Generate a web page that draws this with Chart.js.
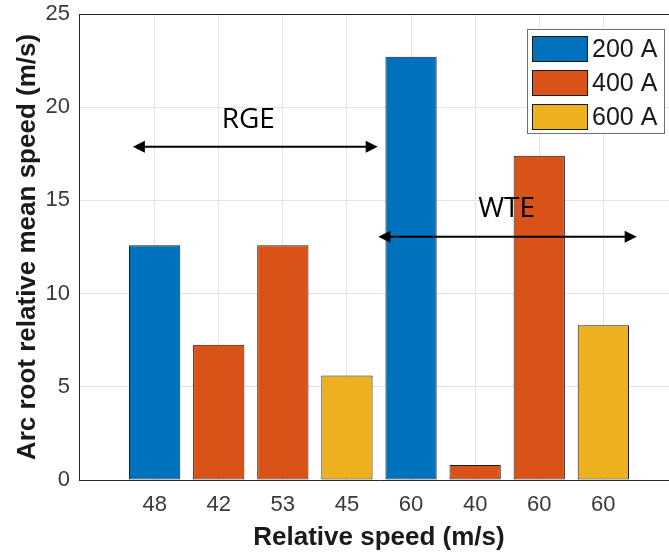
<!DOCTYPE html>
<html>
<head>
<meta charset="utf-8">
<script src="https://cdn.jsdelivr.net/npm/chart.js"></script>
<style>
  html, body { margin: 0; padding: 0; background: #fff; overflow: hidden; }
  #wrap { width: 669px; height: 553px; overflow: hidden; }
</style>
</head>
<body>
<div id="wrap"><canvas id="myChart" width="682" height="553"></canvas></div>
<script>
// bars, left to right
const speedLabels = ['48', '42', '53', '45', '60', '40', '60', '60'];
const barCurrent = ['200 A', '400 A', '400 A', '600 A', '200 A', '400 A', '400 A', '600 A'];
const rootSpeed = [12.6, 7.25, 12.6, 5.6, 22.7, 0.8, 17.4, 8.3];

const seriesNames = ['200 A', '400 A', '600 A'];
const seriesColors = ['#0072BD', '#D95319', '#EDB120'];

const yTicks = [0, 5, 10, 15, 20, 25];

// double arrows with a label, in data units
const arrowNotes = [
  { text: 'RGE', from: 0.66, to: 4.48, y: 17.88, textX: 2.46, textY: 19.3 },
  { text: 'WTE', from: 4.49, to: 8.52, y: 13.05, textX: 6.49, textY: 14.55 }
];

const datasets = seriesNames.map((name, s) => ({
  label: name,
  data: rootSpeed
    .map((v, i) => ({ x: i + 1, y: v, cur: barCurrent[i] }))
    .filter(p => p.cur === name),
  backgroundColor: seriesColors[s],
  borderColor: '#1a1a1a',
  borderWidth: 1,
  borderSkipped: false,
  grouped: false,
  barPercentage: 0.8,
  categoryPercentage: 1.0
}));

function arrowHead(ctx, x, y, dir) {
  ctx.beginPath();
  ctx.moveTo(x, y);
  ctx.lineTo(x - dir * 12, y - 6);
  ctx.lineTo(x - dir * 12, y + 6);
  ctx.closePath();
  ctx.fill();
}

const extras = {
  id: 'extras',
  afterDraw(chart) {
    const ctx = chart.ctx;
    const area = chart.chartArea;
    const xs = chart.scales.x, ys = chart.scales.y;
    ctx.save();
    // top frame line
    ctx.strokeStyle = '#262626';
    ctx.lineWidth = 1;
    ctx.beginPath();
    ctx.moveTo(area.left, Math.round(area.top) + 0.5);
    ctx.lineTo(area.right, Math.round(area.top) + 0.5);
    ctx.stroke();

    // arrows
    ctx.strokeStyle = '#000';
    ctx.fillStyle = '#000';
    ctx.lineWidth = 2;
    arrowNotes.forEach(a => {
      const x1 = xs.getPixelForValue(a.from), x2 = xs.getPixelForValue(a.to);
      const y = ys.getPixelForValue(a.y);
      ctx.beginPath();
      ctx.moveTo(x1 + 8, y);
      ctx.lineTo(x2 - 8, y);
      ctx.stroke();
      arrowHead(ctx, x1, y, -1);
      arrowHead(ctx, x2, y, 1);
      ctx.font = '28px "Open Sans"';
      ctx.textAlign = 'center';
      ctx.textBaseline = 'middle';
      ctx.fillText(a.text, xs.getPixelForValue(a.textX), ys.getPixelForValue(a.textY));
    });

    // legend
    ctx.fillStyle = '#fff';
    ctx.fillRect(527, 29, 137, 104);
    ctx.strokeStyle = '#6e6e6e';
    ctx.lineWidth = 1;
    ctx.strokeRect(527.5, 29.5, 137, 104);
    chart.data.datasets.forEach((ds, i) => {
      const top = 36 + i * 34;
      ctx.fillStyle = ds.backgroundColor;
      ctx.fillRect(532, top, 56, 26);
      ctx.strokeStyle = '#1a1a1a';
      ctx.strokeRect(532.5, top + 0.5, 55, 25);
      ctx.fillStyle = '#1a1a1a';
      ctx.font = '25px "Liberation Sans"';
      ctx.textAlign = 'left';
      ctx.textBaseline = 'middle';
      ctx.fillText(ds.label, 592, top + 14);
    });
    ctx.restore();
  }
};

function noPad(s) {
  s.paddingTop = 0; s.paddingBottom = 0; s.paddingLeft = 0; s.paddingRight = 0;
}

const ctx = document.getElementById('myChart').getContext('2d');
new Chart(ctx, {
  type: 'bar',
  data: { datasets },
  options: {
    responsive: false,
    animation: false,
    devicePixelRatio: 1,
    layout: { padding: { top: 14, right: 3, left: 0, bottom: 0 } },
    plugins: { legend: { display: false }, tooltip: { enabled: false } },
    scales: {
      x: {
        type: 'linear',
        min: -0.18,
        max: 9.18,
        offset: false,
        afterFit: s => { s.height = 73; noPad(s); },
        afterBuildTicks: s => { s.ticks = speedLabels.map((_, i) => ({ value: i + 1 })); },
        grid: { color: '#e3e3e3', drawTicks: false, offset: false },
        border: { color: '#262626', width: 1 },
        ticks: {
          padding: 12,
          color: '#3a3a3a',
          font: { family: 'Liberation Sans', size: 22 },
          callback: v => speedLabels[v - 1]
        },
        title: {
          display: true,
          text: 'Relative speed (m/s)',
          color: '#1a1a1a',
          font: { family: 'Liberation Sans', size: 26, weight: 'bold' },
          padding: { top: 0, bottom: 0 }
        }
      },
      y: {
        min: 0,
        max: 25,
        afterFit: s => { s.width = 79; noPad(s); },
        afterBuildTicks: s => { s.ticks = yTicks.map(v => ({ value: v })); },
        grid: { color: '#e3e3e3', drawTicks: false },
        border: { color: '#262626', width: 1 },
        ticks: {
          padding: 9,
          color: '#3a3a3a',
          font: { family: 'Liberation Sans', size: 22 }
        },
        title: {
          display: true,
          text: 'Arc root relative mean speed (m/s)',
          color: '#1a1a1a',
          font: { family: 'Liberation Sans', size: 26, weight: 'bold' },
          padding: { top: 12, bottom: 0 }
        }
      }
    }
  },
  plugins: [extras]
});
</script>
</body>
</html>
